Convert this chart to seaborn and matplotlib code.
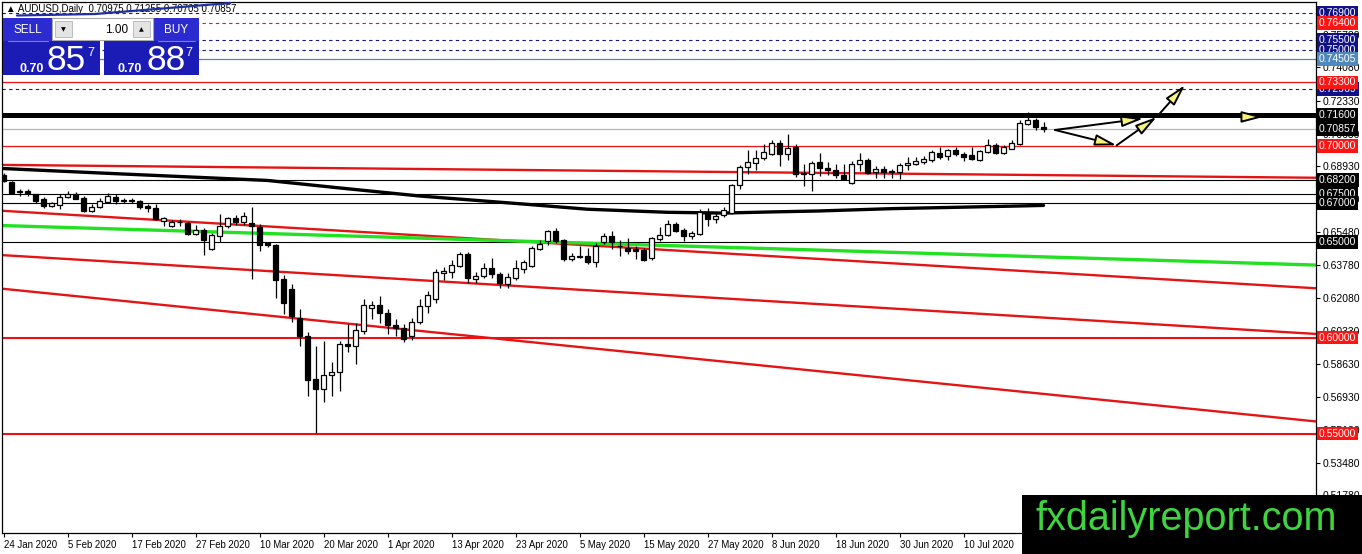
import numpy as np
import pandas as pd
import matplotlib
matplotlib.use("Agg")
import matplotlib.pyplot as plt
import seaborn as sns
from matplotlib.patches import Rectangle, FancyArrowPatch
from matplotlib.lines import Line2D
from matplotlib.transforms import blended_transform_factory

sns.set_theme(style="white")
plt.rcParams['font.family'] = ['Liberation Sans', 'DejaVu Sans']

# ---------------- data ----------------
opens = [0.6847, 0.6812, 0.6762, 0.6763, 0.6748, 0.6722, 0.6686, 0.6691, 0.6733, 0.6748,
         0.6729, 0.6662, 0.6681, 0.6709, 0.6734, 0.6716, 0.6714, 0.6712, 0.6684, 0.6676,
         0.6610, 0.6583, 0.6602, 0.6596, 0.6541, 0.6562, 0.6462, 0.6531, 0.6581, 0.6624,
         0.6601, 0.6598, 0.6578, 0.6491, 0.6484, 0.6303, 0.6251, 0.6104, 0.6009, 0.5785,
         0.5733, 0.5806, 0.5820, 0.5966, 0.5954, 0.6035, 0.6154, 0.6168, 0.6130, 0.6068,
         0.6050, 0.6009, 0.6082, 0.6165, 0.6199, 0.6338, 0.6342, 0.6375, 0.6437, 0.6308,
         0.6320, 0.6365, 0.6331, 0.6277, 0.6313, 0.6358, 0.6375, 0.6462, 0.6501, 0.6553,
         0.6510, 0.6410, 0.6424, 0.6427, 0.6393, 0.6500, 0.6531, 0.6479, 0.6467, 0.6462,
         0.6458, 0.6415, 0.6514, 0.6536, 0.6593, 0.6562, 0.6529, 0.6541, 0.6656, 0.6617,
         0.6640, 0.6648, 0.6795, 0.6890, 0.6912, 0.6938, 0.6959, 0.7015, 0.6957, 0.6993,
         0.6858, 0.6855, 0.6914, 0.6882, 0.6876, 0.6847, 0.6804, 0.6904, 0.6925, 0.6864,
         0.6881, 0.6864, 0.6864, 0.6899, 0.6907, 0.6916, 0.6925, 0.6964, 0.6945, 0.6976,
         0.6959, 0.6950, 0.6928, 0.6967, 0.7002, 0.6962, 0.6985, 0.7007, 0.7114, 0.7135,
         0.70975]
highs = [0.6857, 0.6815, 0.6772, 0.6774, 0.6750, 0.6733, 0.6707, 0.6748, 0.6764, 0.6760,
         0.6738, 0.6697, 0.6727, 0.6752, 0.6748, 0.6727, 0.6727, 0.6716, 0.6697, 0.6697,
         0.6630, 0.6614, 0.6619, 0.6604, 0.6588, 0.6572, 0.6546, 0.6645, 0.6630, 0.6640,
         0.6656, 0.6682, 0.6593, 0.6500, 0.6490, 0.6324, 0.6277, 0.6147, 0.6027, 0.5957,
         0.5983, 0.5871, 0.5983, 0.6070, 0.6075, 0.6199, 0.6189, 0.6215, 0.6147, 0.6096,
         0.6070, 0.6104, 0.6203, 0.6244, 0.6355, 0.6366, 0.6406, 0.6445, 0.6445, 0.6340,
         0.6391, 0.6416, 0.6344, 0.6339, 0.6403, 0.6406, 0.6477, 0.6510, 0.6562, 0.6570,
         0.6514, 0.6440, 0.6476, 0.6469, 0.6492, 0.6544, 0.6553, 0.6510, 0.6518, 0.6475,
         0.6467, 0.6523, 0.6578, 0.6614, 0.6600, 0.6570, 0.6553, 0.6668, 0.6673, 0.6656,
         0.6682, 0.6800, 0.6899, 0.6980, 0.6980, 0.7011, 0.7032, 0.7028, 0.7059, 0.7011,
         0.6904, 0.6921, 0.6963, 0.6914, 0.6906, 0.6906, 0.6921, 0.6963, 0.6936, 0.6893,
         0.6893, 0.6881, 0.6908, 0.6940, 0.6940, 0.6945, 0.6980, 0.6994, 0.6985, 0.6994,
         0.6968, 0.6994, 0.6980, 0.7037, 0.7015, 0.7002, 0.7028, 0.7132, 0.7175, 0.7145,
         0.71255]
lows = [0.6810, 0.6748, 0.6738, 0.6738, 0.6700, 0.6676, 0.6680, 0.6670, 0.6728, 0.6720,
        0.6657, 0.6655, 0.6676, 0.6704, 0.6697, 0.6701, 0.6701, 0.6670, 0.6657, 0.6612,
        0.6583, 0.6578, 0.6583, 0.6536, 0.6536, 0.6428, 0.6457, 0.6500, 0.6570, 0.6588,
        0.6588, 0.6303, 0.6453, 0.6473, 0.6205, 0.6122, 0.6080, 0.5957, 0.5698, 0.5503,
        0.5664, 0.5698, 0.5724, 0.5926, 0.5863, 0.6018, 0.6096, 0.6075, 0.6018, 0.6008,
        0.5978, 0.5987, 0.6070, 0.6127, 0.6179, 0.6298, 0.6313, 0.6370, 0.6285, 0.6285,
        0.6311, 0.6313, 0.6258, 0.6258, 0.6299, 0.6337, 0.6370, 0.6458, 0.6484, 0.6492,
        0.6397, 0.6398, 0.6416, 0.6385, 0.6370, 0.6490, 0.6461, 0.6427, 0.6437, 0.6410,
        0.6397, 0.6406, 0.6506, 0.6531, 0.6548, 0.6505, 0.6514, 0.6536, 0.6583, 0.6596,
        0.6630, 0.6643, 0.6773, 0.6852, 0.6873, 0.6925, 0.6950, 0.6894, 0.6925, 0.6837,
        0.6790, 0.6766, 0.6840, 0.6847, 0.6830, 0.6821, 0.6800, 0.6868, 0.6852, 0.6833,
        0.6833, 0.6833, 0.6826, 0.6873, 0.6899, 0.6907, 0.6916, 0.6931, 0.6925, 0.6945,
        0.6921, 0.6928, 0.6921, 0.6962, 0.6955, 0.6957, 0.6982, 0.7002, 0.7106, 0.7080,
        0.70705]
closes = [0.6816, 0.6752, 0.6760, 0.6752, 0.6714, 0.6686, 0.6701, 0.6734, 0.6748, 0.6724,
          0.6662, 0.6681, 0.6714, 0.6738, 0.6714, 0.6713, 0.6716, 0.6681, 0.6676, 0.6617,
          0.6624, 0.6604, 0.6604, 0.6541, 0.6562, 0.6507, 0.6536, 0.6583, 0.6624, 0.6601,
          0.6635, 0.6583, 0.6484, 0.6484, 0.6299, 0.6182, 0.6113, 0.6009, 0.5781, 0.5730,
          0.5806, 0.5820, 0.5966, 0.5954, 0.6039, 0.6168, 0.6168, 0.6127, 0.6065, 0.6050,
          0.5992, 0.6082, 0.6165, 0.6222, 0.6340, 0.6346, 0.6380, 0.6437, 0.6311, 0.6323,
          0.6365, 0.6329, 0.6285, 0.6317, 0.6363, 0.6392, 0.6467, 0.6490, 0.6553, 0.6501,
          0.6410, 0.6424, 0.6422, 0.6393, 0.6479, 0.6531, 0.6500, 0.6475, 0.6450, 0.6450,
          0.6406, 0.6518, 0.6536, 0.6593, 0.6558, 0.6531, 0.6544, 0.6656, 0.6617, 0.6634,
          0.6666, 0.6795, 0.6890, 0.6916, 0.6938, 0.6967, 0.7015, 0.6957, 0.6990, 0.6855,
          0.6852, 0.6911, 0.6882, 0.6873, 0.6847, 0.6828, 0.6904, 0.6925, 0.6859, 0.6881,
          0.6864, 0.6866, 0.6899, 0.6911, 0.6921, 0.6933, 0.6967, 0.6941, 0.6976, 0.6959,
          0.6942, 0.6933, 0.6972, 0.7002, 0.6962, 0.6993, 0.7015, 0.7118, 0.7135, 0.7098,
          0.70857]

date_tick_bars = [0, 8, 16, 24, 32, 40, 48, 56, 64, 72, 80, 88, 96, 104, 112, 120]
date_labels = ["24 Jan 2020", "5 Feb 2020", "17 Feb 2020", "27 Feb 2020", "10 Mar 2020",
               "20 Mar 2020", "1 Apr 2020", "13 Apr 2020", "23 Apr 2020", "5 May 2020",
               "15 May 2020", "27 May 2020", "8 Jun 2020", "18 Jun 2020", "30 Jun 2020",
               "10 Jul 2020"]

price_ticks = [0.75780, 0.74080, 0.72330, 0.70630, 0.68930, 0.67230, 0.65480, 0.63780,
               0.62080, 0.60330, 0.58630, 0.56930, 0.55180, 0.53480, 0.51780]

# moving average (black curve) sampled at bars
ma_bars = [0, 12, 25, 33, 42, 52, 65, 73, 83, 90, 96, 102, 111, 119, 127, 130]
ma_values = [0.6881, 0.6858, 0.6834, 0.6819, 0.6780, 0.6738, 0.6696, 0.6669, 0.6653,
             0.6649, 0.6655, 0.6660, 0.6672, 0.6679, 0.6686, 0.6689]

# sloped trend lines: (start bar, start price, end bar, end price)
green_line = (-0.2, 0.6584, 164.1, 0.6378)
red_trend_lines = [(-0.2, 0.6900, 164.1, 0.6833),
                   (-0.2, 0.6661, 164.1, 0.6257),
                   (-0.2, 0.6430, 164.1, 0.6019),
                   (-0.2, 0.6255, 164.1, 0.5563)]

# horizontal levels
level_prices = [0.769, 0.764, 0.755, 0.750, 0.74505, 0.733, 0.7296, 0.716, 0.70857,
                0.700, 0.682, 0.675, 0.670, 0.650, 0.600, 0.550]
level_kinds = ["navy_dash", "red_dash", "navy_dash", "navy_dash", "steel", "red_thin",
               "navy_dash", "black_thick", "bid", "red_thin", "black", "black", "black",
               "black", "red_thick", "red_thick"]
label_texts = ["0.76900", "0.76400", "0.75500", "0.75000", "0.74505", "0.72969", "0.73300",
               "0.71600", "0.70857", "0.70000", "0.68200", "0.67500", "0.67000", "0.65000",
               "0.60000", "0.55000"]
label_prices = [0.769, 0.764, 0.755, 0.750, 0.74505, 0.7296, 0.733, 0.716, 0.70857,
                0.700, 0.682, 0.675, 0.670, 0.650, 0.600, 0.550]
label_kinds = ["navy", "red", "navy", "navy", "steel", "navy", "red", "black", "black",
               "red", "black", "black", "black", "black", "red", "red"]

# drawn arrows: (from bar, from price, to bar, to price)
arrows = [(131.44, 0.7082, 139.15, 0.7002),
          (131.44, 0.7082, 142.48, 0.7142),
          (139.15, 0.7002, 144.15, 0.7150),
          (144.15, 0.7150, 147.69, 0.7316),
          (155.30, 0.7150, 157.48, 0.7150)]

header = "\u25b2 AUDUSD,Daily  0.70975 0.71255 0.70705 0.70857"

# ---------------- figure ----------------
W, H = 1362, 554
fig = plt.figure(figsize=(W / 100, H / 100), dpi=100)
fig.patch.set_facecolor("white")
ax = fig.add_axes([2 / W, 21 / H, 1314 / W, 531 / H])
ax.set_facecolor("white")
ax.set_xlim(-0.1875, 164.0625)
ax.set_ylim(0.49818, 0.77489)

NAVY = "#14148c"
RED = "#ee1111"

style = {
    "navy_dash": dict(color=NAVY, lw=0.8, ls=(0, (3, 3))),
    "red_dash": dict(color=RED, lw=0.8, ls=(0, (3, 3))),
    "steel": dict(color="#4a88b8", lw=0.9, ls="-"),
    "red_thin": dict(color=RED, lw=0.9, ls="-"),
    "black_thick": dict(color="black", lw=3.6, ls="-"),
    "bid": dict(color="#b4b4b4", lw=0.9, ls="-"),
    "black": dict(color="black", lw=0.8, ls="-"),
    "red_thick": dict(color=RED, lw=1.5, ls="-"),
}
for p, k in zip(level_prices, level_kinds):
    ax.axhline(p, zorder=2, **style[k])

for (x0, y0, x1, y1) in red_trend_lines:
    ax.plot([x0, x1], [y0, y1], color="#e41414", lw=1.7, zorder=2, solid_capstyle="butt")
ax.plot([green_line[0], green_line[2]], [green_line[1], green_line[3]],
        color="#22e022", lw=2.4, zorder=2.2)

ma_df = pd.DataFrame({"bar": ma_bars, "ma": ma_values})
sns.lineplot(data=ma_df, x="bar", y="ma", color="black", lw=2.4, ax=ax,
             estimator=None, sort=False, zorder=2.3)

# candles
df = pd.DataFrame({"open": opens, "high": highs, "low": lows, "close": closes})
df["bar"] = np.arange(len(df))
up = df["close"] >= df["open"]
ax.vlines(df["bar"], df["low"], df["high"], color="black", lw=0.9, zorder=4)
body = (df["close"] - df["open"]).abs().clip(lower=0.00004)
ax.bar(df["bar"], body, bottom=np.minimum(df["open"], df["close"]), width=0.68,
       color=np.where(up, "white", "black"), edgecolor="black", linewidth=0.9, zorder=5)

# arrows
for (x0, y0, x1, y1) in arrows:
    ar = FancyArrowPatch((x0, y0), (x1, y1),
                         arrowstyle="-|>,head_length=0.65,head_width=0.17",
                         mutation_scale=20, facecolor="#f7f27a", edgecolor="black",
                         lw=1.4, shrinkA=0, shrinkB=0, zorder=6)
    ax.add_patch(ar)

# axes styling
for s in ax.spines.values():
    s.set_color("black")
    s.set_linewidth(0.9)
ax.yaxis.tick_right()
ax.set_yticks(price_ticks)
ax.set_yticklabels([f"{v:.5f}" for v in price_ticks])
ax.tick_params(axis="y", direction="out", length=3, width=0.8, pad=2, labelsize=7.5,
               colors="black", right=True, left=False)
ax.set_xticks(date_tick_bars)
ax.set_xticklabels(date_labels)
ax.tick_params(axis="x", direction="out", length=3, width=0.8, pad=2, labelsize=6.9,
               colors="black", bottom=True)
for lbl in ax.get_xticklabels():
    lbl.set_ha("left")
ax.set_xlabel("")
ax.set_ylabel("")
ax.grid(False)

bgc = {"navy": "#121288", "red": "#ff1414", "steel": "#5088bb", "black": "black"}
trans = blended_transform_factory(ax.transAxes, ax.transData)
for t, p, k in zip(label_texts, label_prices, label_kinds):
    ax.text(1 + 3 / 1314, p, t, transform=trans, ha="left", va="center", fontsize=7.5,
            color="white", clip_on=False, zorder=10,
            bbox=dict(boxstyle="square,pad=0.18", fc=bgc[k], ec="none"))


# ---------------- overlays in pixel coords ----------------
def fx(x):
    return x / W


def fy(y):
    return 1 - y / H


def rect(x0, y0, x1, y1, fc, ec="none", lw=0.0, z=20):
    r = Rectangle((fx(x0), fy(y1)), fx(x1) - fx(x0), fy(y0) - fy(y1),
                  transform=fig.transFigure, facecolor=fc, edgecolor=ec, lw=lw, zorder=z)
    fig.add_artist(r)


fig.text(fx(6), fy(9), header, fontsize=7, color="black", va="center", ha="left",
         zorder=21)
fig.add_artist(Line2D([fx(17), fx(95), fx(230)], [fy(15.5), fy(14), fy(3)],
                      transform=fig.transFigure, color="#1f2f9f", lw=1.6, zorder=22))

# one-click trading panel
rect(3, 18, 52, 41, "#2b2bcf")
rect(153, 18, 199, 41, "#2b2bcf")
rect(3, 41, 100, 75, "#1b1bb5")
rect(104, 41, 199, 75, "#1b1bb5")
rect(52, 18, 153, 40, "white", ec="#a8a8a8", lw=0.8)
rect(55, 21, 72, 37, "#e4e4e4", ec="#b4b4b4", lw=0.6, z=21)
rect(133, 21, 150, 37, "#e4e4e4", ec="#b4b4b4", lw=0.6, z=21)
fig.add_artist(Line2D([fx(8), fx(48)], [fy(41), fy(41)], transform=fig.transFigure,
                      color="#7c7ce6", lw=0.8, zorder=21))
fig.add_artist(Line2D([fx(158), fx(195)], [fy(41), fy(41)], transform=fig.transFigure,
                      color="#7c7ce6", lw=0.8, zorder=21))
fig.text(fx(28), fy(30), "SELL", fontsize=8.5, color="white", ha="center", va="center", zorder=22)
fig.text(fx(176), fy(30), "BUY", fontsize=8.5, color="white", ha="center", va="center", zorder=22)
fig.text(fx(128), fy(30), "1.00", fontsize=8.5, color="black", ha="right", va="center", zorder=22)
fig.text(fx(63.5), fy(29.5), "\u25bc", fontsize=4.5, color="black", ha="center", va="center",
         family=["DejaVu Sans"], zorder=22)
fig.text(fx(141.5), fy(29.5), "\u25b2", fontsize=4.5, color="black", ha="center", va="center",
         family=["DejaVu Sans"], zorder=22)
for x_small, x_big, x_sup, big in [(19, 47, 87, "85"), (118, 146, 185, "88")]:
    fig.text(fx(x_small), fy(72), "0.70", fontsize=9, fontweight="bold", color="white",
             ha="left", va="baseline", zorder=22)
    fig.text(fx(x_big), fy(70.5), big, fontsize=25.5, color="white", ha="left",
             va="baseline", zorder=22)
    fig.text(fx(x_sup), fy(55.5), "7", fontsize=9, color="white", ha="left",
             va="baseline", zorder=22)

# watermark
rect(1022, 495, 1362, 554, "black", z=30)
fig.text(fx(1036), fy(530), "fxdailyreport.com", fontsize=28.5, color="#3fd43f",
         ha="left", va="baseline", zorder=31)

fig.savefig("out.png", dpi=100, facecolor="white")
